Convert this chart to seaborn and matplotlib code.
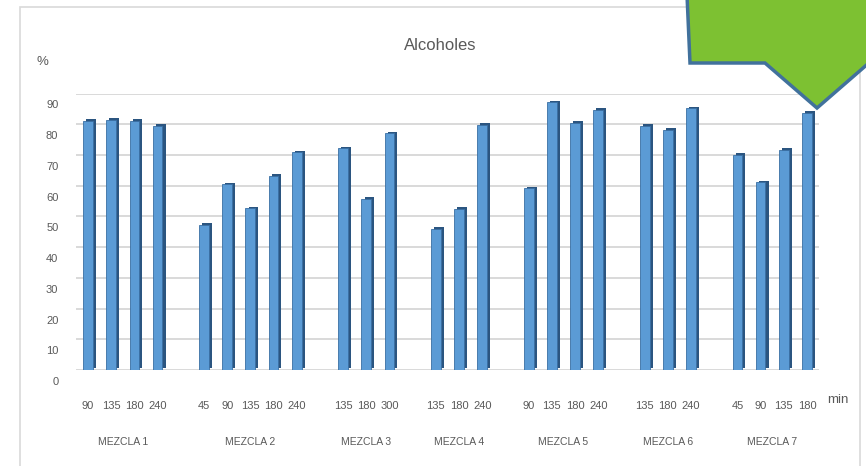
import numpy as np
import pandas as pd
import matplotlib
matplotlib.use("Agg")
import matplotlib.pyplot as plt
import matplotlib.patheffects as pe
from matplotlib.patches import Polygon, Rectangle
from matplotlib.transforms import ScaledTranslation
import seaborn as sns

# ---- data ----
groups = ["MEZCLA 1", "MEZCLA 2", "MEZCLA 3", "MEZCLA 4", "MEZCLA 5", "MEZCLA 6", "MEZCLA 7"]
times_m1 = ["90", "135", "180", "240"]
times_m2 = ["45", "90", "135", "180", "240"]
times_m3 = ["135", "180", "300"]
times_m4 = ["135", "180", "240"]
times_m5 = ["90", "135", "180", "240"]
times_m6 = ["135", "180", "240"]
times_m7 = ["45", "90", "135", "180"]
vals_m1 = [81.0, 81.5, 81.0, 79.5]
vals_m2 = [47.2, 60.4, 52.6, 63.2, 70.9]
vals_m3 = [72.2, 55.7, 77.0]
vals_m4 = [45.9, 52.4, 79.8]
vals_m5 = [59.1, 87.1, 80.5, 84.6]
vals_m6 = [79.4, 78.1, 85.2]
vals_m7 = [70.0, 61.1, 71.6, 83.8]
y_ticks = [0, 10, 20, 30, 40, 50, 60, 70, 80, 90]

all_times = [times_m1, times_m2, times_m3, times_m4, times_m5, times_m6, times_m7]
all_vals = [vals_m1, vals_m2, vals_m3, vals_m4, vals_m5, vals_m6, vals_m7]

rows, order, tick_labels, group_centers = [], [], [], []
for gi, (g, ts, vs) in enumerate(zip(groups, all_times, all_vals)):
    if gi > 0:
        key = f"gap{gi}"
        order.append(key)
        tick_labels.append("")
        rows.append({"slot": key, "value": 0.0, "group": ""})
    start = len(order)
    for t, v in zip(ts, vs):
        key = f"{g}|{t}"
        order.append(key)
        tick_labels.append(t)
        rows.append({"slot": key, "value": v, "group": g})
    group_centers.append((start + len(order) - 1) / 2)
df = pd.DataFrame(rows)

# ---- figure ----
W, H = 866, 466
fig = plt.figure(figsize=(W / 100, H / 100), dpi=100)
sns.set_style("white")
text_font = ["Liberation Sans Narrow", "Liberation Sans", "DejaVu Sans"]
gray = "#595959"

ax = fig.add_axes([76.4 / W, (H - 370) / H, 742.2 / W, (370 - 93.5) / H])
sns.barplot(data=df, x="slot", y="value", order=order, color="#5B9BD5", saturation=1,
            width=0.42, ax=ax, edgecolor="#3A6FA3", linewidth=0.6, zorder=3)
for p in ax.patches:
    p.set_path_effects([pe.SimplePatchShadow(offset=(2.2, 1.2), shadow_rgbFace="#2B5580", alpha=1.0),
                        pe.Normal()])

ax.set_ylim(0, 90)
ax.set_xlim(-0.5, len(order) - 0.5)
ax.set_yticks(y_ticks)
ax.set_yticklabels([str(v) for v in y_ticks], family=text_font, fontsize=8, color=gray)
ax.set_xticks(range(len(order)))
ax.set_xticklabels(tick_labels, family=text_font, fontsize=8, color=gray)
ax.tick_params(axis="x", length=0, pad=22)
ax.tick_params(axis="y", length=0, pad=13)
off = ScaledTranslation(0, -11 / 100, fig.dpi_scale_trans)
for lab in ax.get_yticklabels():
    lab.set_transform(lab.get_transform() + off)
ax.grid(axis="y", color="#D9D9D9", linewidth=1.4, zorder=0)
ax.set_axisbelow(True)
for s in ax.spines.values():
    s.set_visible(False)
ax.set_xlabel("")
ax.set_ylabel("")

for gc, g in zip(group_centers, groups):
    ax.annotate(g, xy=(gc, 0), xycoords=("data", "axes fraction"), xytext=(0, -52),
                textcoords="offset points", ha="center", va="center",
                family=text_font, fontsize=7.5, color=gray)

fig.text(440 / W, 1 - 45 / H, "Alcoholes", ha="center", va="center",
         family=text_font, fontsize=12, color=gray)
fig.text(42 / W, 1 - 62 / H, "%", ha="center", va="center",
         family=text_font, fontsize=9.5, color=gray)
fig.text(838 / W, 1 - 400 / H, "min", ha="center", va="center",
         family=text_font, fontsize=9.5, color=gray)

# chart frame
fig.patches.append(Rectangle((20 / W, -0.05), (860 - 20) / W, 1.05 - 7 / H,
                             transform=fig.transFigure, fill=False,
                             edgecolor="#D9D9D9", linewidth=1.2, zorder=1))

# green callout arrow (decorative)
arrow_px = [(687, -5), (690, 63), (765, 63), (817, 108), (870, 62), (870, -5)]
poly = Polygon([(x / W, 1 - y / H) for x, y in arrow_px], closed=True,
               transform=fig.transFigure, facecolor="#7DC132",
               edgecolor="#41719C", linewidth=2.5, zorder=10)
fig.patches.append(poly)

fig.savefig("out.png", dpi=100)
